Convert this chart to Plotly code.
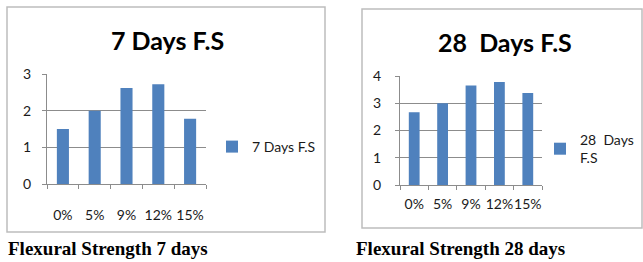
import plotly.graph_objects as go

categories = ["0%", "5%", "9%", "12%", "15%"]
fs7 = [1.5, 2.0, 2.62, 2.72, 1.78]
fs28 = [2.67, 3.0, 3.65, 3.78, 3.38]

W, H = 643, 262
def px(x): return x / W
def py(y): return 1 - y / H

BLUE = "#4F81BD"
GRID = "#8c8c8c"
TXT = "#1a1a1a"
FONT = "Lato"

fig = go.Figure()
fig.add_trace(go.Bar(x=categories, y=fs7, name="7 Days F.S", marker=dict(color=BLUE, line=dict(width=0)),
                     xaxis="x", yaxis="y", legend="legend", showlegend=True))
fig.add_trace(go.Bar(x=categories, y=fs28, name="28  Days<br>F.S", marker=dict(color=BLUE, line=dict(width=0)),
                     xaxis="x2", yaxis="y2", legend="legend2", showlegend=True))

axcommon = dict(showline=True, linecolor=GRID, linewidth=1, ticks="outside", tickcolor=GRID,
                ticklen=4, tickfont=dict(family=FONT, size=14, color=TXT), fixedrange=True,
                automargin=False, tickangle=0)

fig.update_layout(
    template="none",
    showlegend=True,
    width=W, height=H, margin=dict(l=0, r=0, t=0, b=0, autoexpand=False),
    paper_bgcolor="white", plot_bgcolor="white",
    bargap=0.62,
    xaxis=dict(domain=[px(47), px(206)], type="category", tickson="boundaries",
               ticklabelstandoff=18, showgrid=False, **axcommon),
    yaxis=dict(domain=[py(184), py(74)], range=[0, 3], dtick=1, showgrid=True, gridcolor=GRID,
               anchor="x", ticklabelstandoff=8, zeroline=False, **axcommon),
    xaxis2=dict(domain=[px(400), px(542)], type="category", tickson="boundaries",
                anchor="y2", ticklabelstandoff=6, showgrid=False, **axcommon),
    yaxis2=dict(domain=[py(185), py(76)], range=[0, 4], dtick=1, showgrid=True, gridcolor=GRID,
                anchor="x2", ticklabelstandoff=11, zeroline=False, **axcommon),
    legend=dict(visible=True, x=px(212), y=py(147), xanchor="left", yanchor="middle", bgcolor="rgba(0,0,0,0)",
                font=dict(family=FONT, size=14, color=TXT), itemwidth=30),
    legend2=dict(visible=True, x=px(540), y=py(149), xanchor="left", yanchor="middle", bgcolor="rgba(0,0,0,0)",
                 font=dict(family=FONT, size=14, color=TXT), itemwidth=30),
    shapes=[
        dict(type="rect", xref="paper", yref="paper", x0=px(7), x1=px(325), y0=py(232), y1=py(7),
             line=dict(color="#bdbdbd", width=1.5)),
        dict(type="rect", xref="paper", yref="paper", x0=px(362), x1=px(642), y0=py(228), y1=py(9),
             line=dict(color="#bdbdbd", width=1.5)),
    ],
    annotations=[
        dict(text="<b>7 Days F.S</b>", x=px(167), y=py(40), xref="paper", yref="paper",
             xanchor="center", yanchor="middle",
             showarrow=False, font=dict(family=FONT, size=25, color="black")),
        dict(text="<b>28  Days F.S</b>", x=px(505), y=py(42), xref="paper", yref="paper",
             xanchor="center", yanchor="middle",
             showarrow=False, font=dict(family=FONT, size=25, color="black")),
        dict(text="<b>Flexural Strength 7 days</b>", x=px(6), y=py(248), xref="paper", yref="paper",
             xanchor="left", yanchor="middle", showarrow=False,
             font=dict(family="Liberation Serif", size=19, color="black")),
        dict(text="<b>Flexural Strength 28 days</b>", x=px(354), y=py(248), xref="paper", yref="paper",
             xanchor="left", yanchor="middle", showarrow=False,
             font=dict(family="Liberation Serif", size=19, color="black")),
    ],
)
fig.write_html("out.html", config={"displayModeBar": False},
               post_script="document.body.style.margin='0';")
